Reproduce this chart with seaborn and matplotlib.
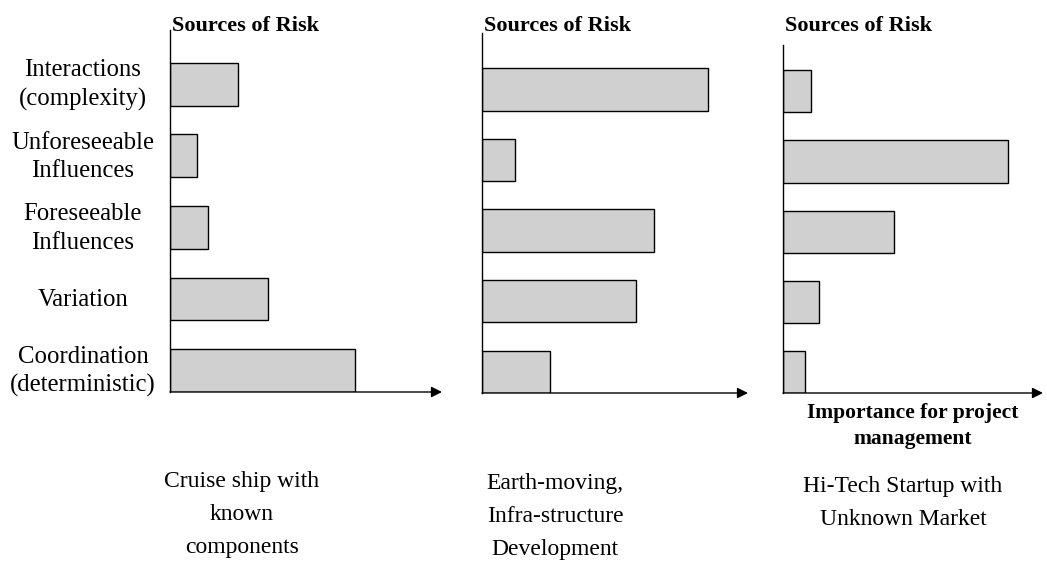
import pandas as pd
import numpy as np
import seaborn as sns
import matplotlib.pyplot as plt
import matplotlib.transforms as mtrans

# risk sources (top to bottom)
sources = ['Interactions\n(complexity)', 'Unforeseeable\nInfluences', 'Foreseeable\nInfluences',
           'Variation', 'Coordination\n(deterministic)']

# importance for project management (axis runs 0..10, arrow tip = 10)
cruise = [2.5, 1.0, 1.4, 3.6, 6.8]
earth = [8.5, 1.25, 6.45, 5.8, 2.55]
hitech = [1.07, 8.66, 4.27, 1.4, 0.85]

captions = ['Cruise ship with\nknown\ncomponents',
            'Earth-moving,\nInfra-structure\nDevelopment',
            'Hi-Tech Startup with\nUnknown Market']

df = pd.DataFrame({'source': sources * 3,
                   'value': cruise + earth + hitech,
                   'project': np.repeat(captions, len(sources))})

sns.set_style('white')
plt.rcParams['font.family'] = ['Liberation Serif', 'DejaVu Serif']
plt.rcParams['text.color'] = 'black'

W, H = 1047, 562
fig = plt.figure(figsize=(W / 100, H / 100), dpi=100)

# panel boxes in pixels: left, top, right, bottom (axis line)
boxes = [(170, 30, 442, 392), (482, 33, 748, 393), (783, 45, 1043, 393)]
ytops = [-0.76, -0.8, -0.66]
cap_pos = [(242, 515), (555, 517), (903, 503)]

for i, cap in enumerate(captions):
    l, t, r, b = boxes[i]
    ax = fig.add_axes([l / W, 1 - b / H, (r - l) / W, (b - t) / H])
    sub = df[df['project'] == cap]
    sns.barplot(data=sub, x='value', y='source', order=sources, orient='h',
                color='#d0d0d0', saturation=1, edgecolor='black', linewidth=1,
                width=0.6, ax=ax)
    ax.set_xlim(0, 10)
    ax.set_ylim(4.3, ytops[i])
    for s in ['top', 'right', 'bottom']:
        ax.spines[s].set_visible(False)
    ax.spines['left'].set_color('black')
    ax.spines['left'].set_linewidth(1)
    ax.annotate('', xy=(1, 0), xytext=(0, 0), xycoords='axes fraction',
                arrowprops=dict(arrowstyle='-|>', color='black', lw=1, mutation_scale=16,
                                shrinkA=0, shrinkB=0))
    ax.set_xticks([])
    ax.set_xlabel('')
    ax.set_ylabel('')
    if i == 0:
        # category names centred left of the axis
        ticks = ax.get_yticks()
        ax.set_yticks([])
        tr = mtrans.offset_copy(ax.get_yaxis_transform(), fig=fig, x=-87, y=-1, units='dots')
        for y, name in zip(ticks, sources):
            ax.text(0, y, name, transform=tr, ha='center', va='center',
                    multialignment='center', fontsize=17.8, linespacing=1.38)
    else:
        ax.set_yticks([])

    fig.text((l + 2) / W, 1 - 31 / H, 'Sources of Risk', fontsize=16,
             fontweight='bold', ha='left', va='baseline')
    cx, cy = cap_pos[i]
    fig.text(cx / W, 1 - cy / H, cap, fontsize=17, ha='center', va='center',
             linespacing=1.75)

fig.text(913 / W, 1 - 426 / H, 'Importance for project\nmanagement', fontsize=15.5,
         fontweight='bold', ha='center', va='center', linespacing=1.45)

fig.savefig('out.png', dpi=100, facecolor='white')
